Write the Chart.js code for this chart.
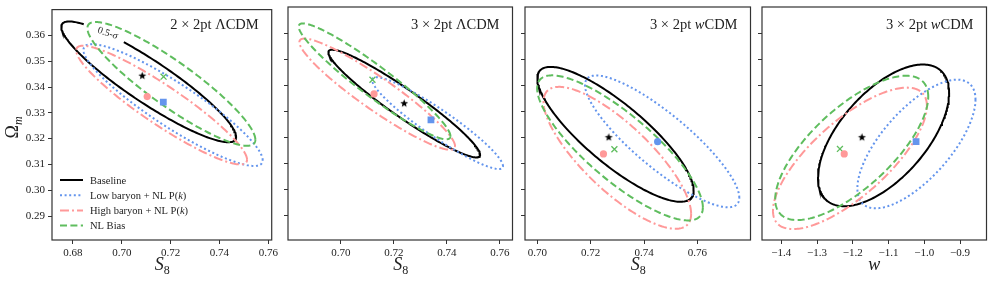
<!DOCTYPE html>
<html>
<head>
<meta charset="utf-8">
<script src="https://cdn.jsdelivr.net/npm/chart.js@4.4.0/dist/chart.umd.min.js"></script>
<style>
  html, body { margin: 0; padding: 0; background: #fff; }
  #wrap { position: relative; width: 996px; height: 283px; overflow: hidden; }
  #wrap canvas { position: absolute; top: 0; }
</style>
</head>
<body>
<div id="wrap"></div>
<script>
// ---- data ----
const panelTitles = [
  [['2 × 2pt ΛCDM', false]],
  [['3 × 2pt ΛCDM', false]],
  [['3 × 2pt ', false], ['w', true], ['CDM', false]],
  [['3 × 2pt ', false], ['w', true], ['CDM', false]]
];
const seriesNames = ['Baseline', 'Low baryon + NL P(k)', 'High baryon + NL P(k)', 'NL Bias'];
const xLabels = ['S8', 'S8', 'S8', 'w'];
const xRanges = [[0.6714, 0.7614], [0.6800, 0.7648], [0.6954, 0.7799], [-1.454, -0.826]];
const xTickValues = [
  [0.68, 0.70, 0.72, 0.74, 0.76],
  [0.70, 0.72, 0.74, 0.76],
  [0.70, 0.72, 0.74, 0.76],
  [-1.4, -1.3, -1.2, -1.1, -1.0, -0.9]
];
const yRange = [0.2807, 0.3700];
const yTickValues = [0.29, 0.30, 0.31, 0.32, 0.33, 0.34, 0.35, 0.36];

// 0.5-sigma contours per panel: [centre x, centre y, half width x, half height y, correlation]
const baselineEllipse = [
  [0.7110, 0.3420, 0.0358, 0.0234, -0.91],
  [0.7239, 0.3330, 0.02865, 0.02065, -0.95],
  [0.7293, 0.3212, 0.0293, 0.02585, -0.83],
  [-1.114, 0.3208, 0.1834, 0.02715, 0.60]
];
const lowBaryonEllipse = [
  [0.7210, 0.3330, 0.0367, 0.0236, -0.905],
  [0.7365, 0.3255, 0.0247, 0.0176, -0.935],
  [0.7468, 0.3185, 0.0289, 0.02525, -0.855],
  [-1.022, 0.3175, 0.1652, 0.02465, 0.69]
];
const highBaryonEllipse = [
  [0.7163, 0.3330, 0.0350, 0.0230, -0.92],
  [0.7137, 0.3366, 0.0294, 0.0213, -0.935],
  [0.7300, 0.3122, 0.02765, 0.0272, -0.79],
  [-1.208, 0.3120, 0.2153, 0.0271, 0.74]
];
const nlBiasEllipse = [
  [0.7203, 0.3412, 0.0344, 0.0240, -0.90],
  [0.7127, 0.3415, 0.02865, 0.0222, -0.945],
  [0.7310, 0.3160, 0.03105, 0.0278, -0.82],
  [-1.203, 0.3160, 0.2140, 0.02765, 0.71]
];
// best-fit markers per panel: [x, y]
const baselinePoint = [[0.7083, 0.3444], [0.7238, 0.3331], [0.7267, 0.3201], [-1.175, 0.3201]];
const lowBaryonPoint = [[0.7170, 0.3341], [0.7340, 0.3267], [0.7451, 0.3184], [-1.023, 0.3184]];
const highBaryonPoint = [[0.7104, 0.3363], [0.7125, 0.3367], [0.7248, 0.3137], [-1.224, 0.3137]];
const nlBiasPoint = [[0.7171, 0.3440], [0.7119, 0.3421], [0.7289, 0.3155], [-1.236, 0.3156]];

// the contour label sits in a break of the first baseline contour
const contourLabelAt = [0.6942, 0.3608];
const contourGapX = [0.6848, 0.7002];

// ---- styles ----
const SERIF = "'Liberation Serif', 'DejaVu Serif', serif";
const INK = '#222';
const styles = [
  { color: '#000000', dash: [] },
  { color: '#6495ED', dash: [2, 2.6] },
  { color: '#FF9999', dash: [9, 3, 2, 3] },
  { color: '#5FBD5E', dash: [7, 3.4] }
];
const areas = [[52, 277], [288, 514], [525, 752], [762, 988]];

function ellipseData(p, gap) {
  const [cx, cy, sx, sy, rho] = p;
  const out = [];
  const n = 240;
  for (let k = 0; k <= n; k++) {
    const t = 2 * Math.PI * k / n;
    const x = cx + sx * Math.cos(t);
    let y = cy + sy * (rho * Math.cos(t) + Math.sqrt(1 - rho * rho) * Math.sin(t));
    if (gap && Math.sin(t) > 0 && x > gap[0] && x < gap[1]) y = null;
    out.push({ x, y });
  }
  return out;
}

function starImage(r, color) {
  const c = document.createElement('canvas');
  c.width = c.height = 2 * r + 2;
  const g = c.getContext('2d');
  g.beginPath();
  for (let k = 0; k < 10; k++) {
    const a = -Math.PI / 2 + k * Math.PI / 5;
    const rr = k % 2 ? r * 0.42 : r;
    g.lineTo(r + 1 + rr * Math.cos(a), r + 1 + rr * Math.sin(a));
  }
  g.closePath();
  g.fillStyle = color;
  g.fill();
  return c;
}
const star = starImage(4.2, '#000');

function drawRich(ctx, segs, x, y, size, align) {
  let w = 0;
  segs.forEach(s => { ctx.font = (s[1] ? 'italic ' : '') + size + 'px ' + SERIF; w += ctx.measureText(s[0]).width; });
  let cx = align === 'right' ? x - w : align === 'center' ? x - w / 2 : x;
  ctx.textAlign = 'left';
  segs.forEach(s => {
    ctx.font = (s[1] ? 'italic ' : '') + size + 'px ' + SERIF;
    ctx.fillText(s[0], cx, y);
    cx += ctx.measureText(s[0]).width;
  });
}

const decoPlugin = {
  id: 'panelDeco',
  afterDraw(chart, args, opts) {
    const i = opts.idx;
    const ctx = chart.ctx;
    const a = chart.chartArea;
    ctx.save();
    // frame
    ctx.strokeStyle = '#333';
    ctx.lineWidth = 1.2;
    ctx.setLineDash([]);
    ctx.strokeRect(a.left, a.top, a.right - a.left, a.bottom - a.top);
    ctx.fillStyle = INK;
    ctx.textBaseline = 'alphabetic';
    // panel title
    drawRich(ctx, panelTitles[i], a.right - 13, 28.5, 14.5, 'right');
    // x axis label
    const mx = (a.left + a.right) / 2;
    if (xLabels[i] === 'w') {
      ctx.font = 'italic 18px ' + SERIF; ctx.textAlign = 'center';
      ctx.fillText('w', mx, 270);
    } else {
      ctx.font = 'italic 18px ' + SERIF; ctx.textAlign = 'right';
      ctx.fillText('S', mx + 2, 270);
      ctx.font = '12px ' + SERIF; ctx.textAlign = 'left';
      ctx.fillText('8', mx + 2, 273.5);
    }
    if (i === 0) {
      // y axis label
      ctx.save();
      ctx.translate(18, 127);
      ctx.rotate(-Math.PI / 2);
      ctx.font = '18px ' + SERIF; ctx.textAlign = 'right';
      ctx.fillText('Ω', 2, 0);
      ctx.font = 'italic 12px ' + SERIF; ctx.textAlign = 'left';
      ctx.fillText('m', 2, 3.5);
      ctx.restore();
      // contour label
      const xs = chart.scales.x, ys = chart.scales.y;
      ctx.save();
      ctx.translate(xs.getPixelForValue(contourLabelAt[0]), ys.getPixelForValue(contourLabelAt[1]));
      ctx.rotate(0.32);
      ctx.textBaseline = 'middle';
      drawRich(ctx, [['0.5-', false], ['σ', true]], 0, 0, 10, 'center');
      ctx.restore();
      // legend
      seriesNames.forEach((name, k) => {
        const yy = 180 + k * 15.2;
        ctx.beginPath();
        ctx.strokeStyle = styles[k].color;
        ctx.lineWidth = 2;
        ctx.setLineDash(styles[k].dash);
        ctx.moveTo(a.left + 8, yy);
        ctx.lineTo(a.left + 31, yy);
        ctx.stroke();
        ctx.setLineDash([]);
        ctx.fillStyle = INK;
        const segs = name.endsWith('P(k)')
          ? [[name.slice(0, -2), false], ['k', true], [')', false]]
          : [[name, false]];
        drawRich(ctx, segs, a.left + 38, yy + 3.5, 10.5, 'left');
      });
    }
    ctx.restore();
  }
};

const ellipses = [baselineEllipse, lowBaryonEllipse, highBaryonEllipse, nlBiasEllipse];
const points = [baselinePoint, lowBaryonPoint, highBaryonPoint, nlBiasPoint];
const markerStyle = [
  { pointStyle: star, radius: 4 },
  { pointStyle: 'rect', radius: 4.8 },
  { pointStyle: 'circle', radius: 3.6 },
  { pointStyle: 'crossRot', radius: 4.2 }
];

const wrap = document.getElementById('wrap');
areas.forEach((ar, i) => {
  const yw = i === 0 ? 52 : 12;
  const cv = document.createElement('canvas');
  cv.width = yw + (ar[1] - ar[0]) + 4;
  cv.height = 283;
  cv.style.left = (ar[0] - yw) + 'px';
  wrap.appendChild(cv);

  const datasets = [];
  // markers on top
  points.forEach((pts, k) => {
    const ms = Object.assign({}, markerStyle[k]);
    if (i === 2 && k === 1) { ms.pointStyle = 'circle'; ms.radius = 3.6; }
    datasets.push({
      type: 'scatter',
      label: seriesNames[k] + ' point',
      data: [{ x: pts[i][0], y: pts[i][1] }],
      pointStyle: ms.pointStyle,
      pointRadius: ms.radius,
      backgroundColor: styles[k].color,
      borderColor: styles[k].color,
      borderWidth: k === 3 ? 1.3 : 0,
      order: 0
    });
  });
  ellipses.forEach((el, k) => {
    datasets.push({
      type: 'scatter',
      label: seriesNames[k],
      data: ellipseData(el[i], (i === 0 && k === 0) ? contourGapX : null),
      showLine: true,
      spanGaps: false,
      pointRadius: 0,
      borderColor: styles[k].color,
      borderWidth: 2,
      borderDash: styles[k].dash,
      tension: 0,
      order: 4 - k + 1
    });
  });

  new Chart(cv, {
    type: 'scatter',
    data: { datasets },
    plugins: [decoPlugin],
    options: {
      responsive: false,
      animation: false,
      devicePixelRatio: 1,
      layout: { padding: { top: 7, right: 4, left: 0, bottom: 0 } },
      plugins: { legend: { display: false }, tooltip: { enabled: false }, panelDeco: { idx: i } },
      scales: {
        x: {
          type: 'linear',
          min: xRanges[i][0],
          max: xRanges[i][1],
          afterBuildTicks: s => { s.ticks = xTickValues[i].map(v => ({ value: v })); },
          afterFit: s => { s.height = 43; },
          border: { display: false },
          grid: { drawOnChartArea: false, drawTicks: true, tickLength: 4, color: '#333', lineWidth: 1 },
          ticks: {
            color: INK, padding: 3, maxRotation: 0, autoSkip: false,
            font: { family: SERIF, size: 11 },
            callback: v => i === 3 ? v.toFixed(1).replace('-', '\u2212') : v.toFixed(2)
          }
        },
        y: {
          type: 'linear',
          min: yRange[0],
          max: yRange[1],
          afterBuildTicks: s => { s.ticks = yTickValues.map(v => ({ value: v })); },
          afterFit: s => { s.width = yw; },
          border: { display: false },
          grid: { drawOnChartArea: false, drawTicks: true, tickLength: 4, color: '#333', lineWidth: 1 },
          ticks: {
            display: i === 0,
            color: INK, padding: 3,
            font: { family: SERIF, size: 11 },
            callback: v => v.toFixed(2)
          }
        }
      }
    }
  });
});
</script>
</body>
</html>
